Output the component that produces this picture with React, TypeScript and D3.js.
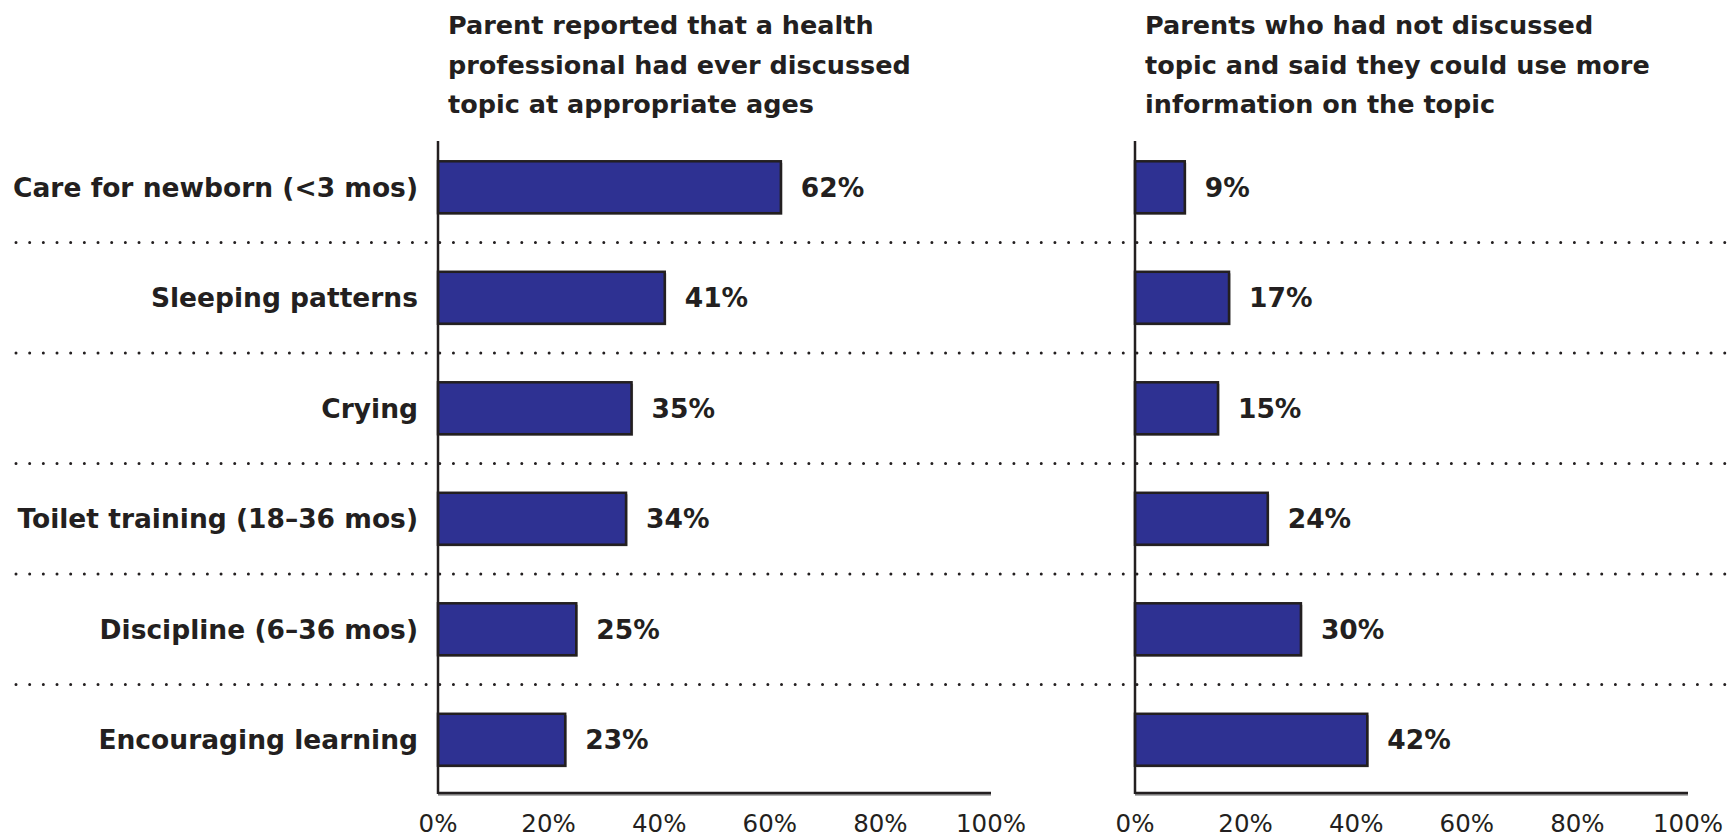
import React from "react";
import * as d3 from "d3";

// categories and the two series (percent)
const categories = [
  "Care for newborn (<3 mos)",
  "Sleeping patterns",
  "Crying",
  "Toilet training (18–36 mos)",
  "Discipline (6–36 mos)",
  "Encouraging learning",
];
const discussed = [62, 41, 35, 34, 25, 23];
const wantMoreInfo = [9, 17, 15, 24, 30, 42];
const tickValues = [0, 20, 40, 60, 80, 100];

const leftTitle = [
  "Parent reported that a health",
  "professional had ever discussed",
  "topic at appropriate ages",
];
const rightTitle = [
  "Parents who had not discussed",
  "topic and said they could use more",
  "information on the topic",
];

const W = 1734;
const H = 840;
const BLUE = "#2e3192";
const INK = "#231f20";
const FONT = "'DejaVu Sans', sans-serif";

const yScale = d3
  .scaleBand<string>()
  .domain(categories)
  .range([132, 795])
  .paddingInner(0.53)
  .paddingOuter(0.265);

function Panel({ x0, values, title }: { x0: number; values: number[]; title: string[] }) {
  const xScale = d3.scaleLinear().domain([0, 100]).range([x0, x0 + 553]);
  const bw = yScale.bandwidth();
  const baseY = 793;
  return (
    <g>
      {title.map((t, i) => (
        <text
          key={i}
          x={x0 + 10}
          y={34 + i * 39.5}
          fontFamily={FONT}
          fontWeight={700}
          fontSize={25.5}
          fill={INK}
        >
          {t}
        </text>
      ))}
      {/* bars */}
      {values.map((v, i) => {
        const y = yScale(categories[i])!;
        const w = xScale(v) - xScale(0);
        return (
          <g key={i}>
            <rect x={xScale(0) + 1.5} y={y + 1.5} width={w} height={bw} fill="#8a8a8a" />
            <rect
              x={xScale(0)}
              y={y}
              width={w}
              height={bw}
              fill={BLUE}
              stroke={INK}
              strokeWidth={2.5}
            />
            <text
              x={xScale(v) + 20}
              y={y + bw / 2}
              dy="0.36em"
              fontFamily={FONT}
              fontWeight={700}
              fontSize={26.5}
              fill={INK}
            >
              {v}%
            </text>
          </g>
        );
      })}
      {/* axes */}
      <line x1={xScale(0)} x2={xScale(100)} y1={baseY + 1.5} y2={baseY + 1.5} stroke="#999" strokeWidth={2.5} />
      <line x1={xScale(0)} x2={xScale(100)} y1={baseY} y2={baseY} stroke={INK} strokeWidth={2.5} />
      <line x1={xScale(0)} x2={xScale(0)} y1={141} y2={baseY + 1} stroke={INK} strokeWidth={2.5} />
      {tickValues.map((t) => (
        <text
          key={t}
          x={xScale(t)}
          y={832}
          textAnchor="middle"
          fontFamily={FONT}
          fontSize={24.5}
          fill={INK}
        >
          {t}%
        </text>
      ))}
    </g>
  );
}

export default function App() {
  const bw = yScale.bandwidth();
  const step = yScale.step();
  return (
    <svg width={W} height={H} style={{ position: "absolute", left: 0, top: 0, background: "#fff" }}>
      {/* dotted separators */}
      {categories.slice(0, -1).map((c, i) => {
        const y = yScale(c)! + bw + (step - bw) / 2;
        return (
          <line
            key={i}
            x1={16}
            x2={W}
            y1={y}
            y2={y}
            stroke={INK}
            strokeWidth={3}
            strokeLinecap="round"
            strokeDasharray="0 13.67"
          />
        );
      })}
      {categories.map((c) => (
        <text
          key={c}
          x={418}
          y={yScale(c)! + bw / 2}
          dy="0.36em"
          textAnchor="end"
          fontFamily={FONT}
          fontWeight={700}
          fontSize={26.5}
          fill={INK}
        >
          {c}
        </text>
      ))}
      <Panel x0={438} values={discussed} title={leftTitle} />
      <Panel x0={1135} values={wantMoreInfo} title={rightTitle} />
    </svg>
  );
}
